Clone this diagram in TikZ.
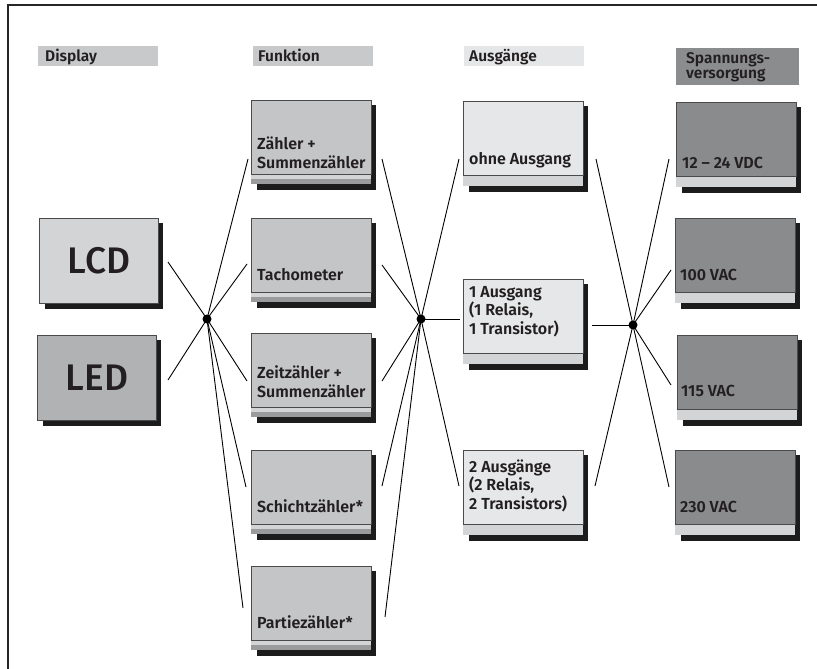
\documentclass[tikz,border=0pt]{standalone}
\usepackage{fontspec}
\setmainfont{Fira Sans}
\newfontfamily\fsemi{Fira Sans SemiBold}
\newfontfamily\fmed{Fira Sans Medium}
\definecolor{shadowc}{HTML}{1C1C1C}
\definecolor{borderc}{HTML}{4A4A4A}
\definecolor{textc}{HTML}{231F20}
\definecolor{hdrA}{HTML}{C8C9CB}
\definecolor{hdrB}{HTML}{E5E6E7}
\definecolor{hdrC}{HTML}{8B8C8E}
\definecolor{fillLCD}{HTML}{D3D4D6}
\definecolor{fillLED}{HTML}{B1B2B4}
\definecolor{fillF}{HTML}{C4C5C7}
\definecolor{fillA}{HTML}{E6E7E8}
\definecolor{fillS}{HTML}{8A8B8D}
\definecolor{stripl}{HTML}{D3D4D6}
\definecolor{stripd}{HTML}{9A9B9D}
\newcommand\pnlF[4]{%
  \fill[shadowc] (#2+6,#3+5) rectangle (#2+125,#3+90);
  \fill[stripl] (#2,#3+74) rectangle (#2+120,#3+78.5);
  \fill[stripd] (#2,#3+78.5) rectangle (#2+120,#3+84);
  \node[panel,fill=#4] (#1) at (#2,#3) {};}
\newcommand\pnlA[4]{%
  \fill[shadowc] (#2+6,#3+5) rectangle (#2+125,#3+91);
  \fill[stripl] (#2,#3+74) rectangle (#2+120,#3+85);
  \node[panel,fill=#4] (#1) at (#2,#3) {};}
\newcommand\pnlD[4]{%
  \fill[shadowc] (#2+6,#3+5) rectangle (#2+124,#3+91);
  \node[panel,fill=#4,minimum width=119pt,minimum height=85pt] (#1) at (#2,#3) {};}
\begin{document}
\begin{tikzpicture}[x=1pt,y=-1pt,
  panel/.style={anchor=north west,minimum width=120pt,minimum height=74pt,
    draw=borderc,line width=0.8pt,inner sep=0pt},
  hdr/.style={anchor=north west,inner sep=0pt,draw=none,minimum height=20pt},
  txt/.style={anchor=base west,inner sep=0pt,text=textc,align=left,
    font=\fsemi\fontsize{16}{18.5}\selectfont},
  htxt/.style={anchor=base west,inner sep=0pt,text=textc,align=left,
    font=\fsemi\fontsize{15.5}{14}\selectfont},
  big/.style={inner sep=0pt,text=textc,font=\fmed\fontsize{37}{40}\selectfont},
  dot/.style={circle,fill=black,minimum size=9pt,inner sep=0pt},
  conn/.style={line width=0.9pt,black}]
\useasboundingbox (0,0) rectangle (817,669);
% frame
\draw[line width=1.3pt,color=black!85] (817,5) -- (8,5) -- (8,669);
% headers
\node[hdr,fill=hdrA,minimum width=120pt] (hd1) at (38,46) {};
\node[hdr,fill=hdrA,minimum width=120pt] (hd2) at (253,46) {};
\node[hdr,fill=hdrB,minimum width=120pt] (hd3) at (464,46) {};
\node[hdr,fill=hdrC,minimum width=123pt,minimum height=37pt] (hd4) at (676,48) {};
\node[htxt] (ht1) at (45,62) {Display};
\node[htxt] (ht2) at (258,62) {Funktion};
\node[htxt] (ht3) at (469,62) {Ausgänge};
\node[htxt] (ht4) at (686,78) {Spannungs-\\versorgung};
% display
\pnlD{lcd}{39}{218}{fillLCD}
\pnlD{led}{37}{335}{fillLED}
\node[big] (tlcd) at (lcd.center) {LCD};
\node[big] (tled) at (led.center) {LED};
% funktion
\pnlF{f1}{251}{100}{fillF}
\pnlF{f2}{251}{218}{fillF}
\pnlF{f3}{251}{333}{fillF}
\pnlF{f4}{251}{450}{fillF}
\pnlF{f5}{251}{566}{fillF}
\node[txt] (tf1) at (257,168) {Zähler +\\Summenzähler};
\node[txt] (tf2) at (257,280) {Tachometer};
\node[txt] (tf3) at (257,397) {Zeitzähler +\\Summenzähler};
\node[txt] (tf4) at (257,512) {Schichtzähler*};
\node[txt] (tf5) at (257,628) {Partiezähler*};
% ausgaenge
\pnlA{a1}{463}{101}{fillA}
\pnlA{a2}{463}{279}{fillA}
\pnlA{a3}{463}{450}{fillA}
\node[txt] (ta1) at (469,164) {ohne Ausgang};
\node[txt] (ta2) at (469,334) {1 Ausgang\\(1 Relais,\\1 Transistor)};
\node[txt] (ta3) at (469,509) {2 Ausgänge\\(2 Relais,\\2 Transistors)};
% spannung
\pnlA{s1}{676}{102}{fillS}
\pnlA{s2}{675}{218}{fillS}
\pnlA{s3}{677}{335}{fillS}
\pnlA{s4}{675}{450}{fillS}
\node[txt] (ts1) at (682,168) {12 – 24 VDC};
\node[txt] (ts2) at (680,280) {100 VAC};
\node[txt] (ts3) at (681,396) {115 VAC};
\node[txt] (ts4) at (680,512) {230 VAC};
% junctions
\node[dot] (d1) at (207,319) {};
\node[dot] (d2) at (421,319) {};
\node[dot] (d3) at (633,325) {};
% connector ends
\coordinate (elcd) at (168,262);
\coordinate (eled) at (168,380);
\coordinate (ef1) at (248,159);
\coordinate (ef2) at (247,264);
\coordinate (ef3) at (247,381);
\coordinate (ef4) at (246,487);
\coordinate (ef5) at (243,608);
\coordinate (gf1) at (382,159);
\coordinate (gf2) at (382,265);
\coordinate (gf3) at (382,381);
\coordinate (gf4) at (382,486);
\coordinate (gf5) at (385,617);
\coordinate (ea1) at (459,159);
\coordinate (ea2) at (460,319);
\coordinate (ea3) at (459,486);
\coordinate (ga1) at (596,159);
\coordinate (ga2) at (592,325);
\coordinate (ga3) at (595,486);
\coordinate (es1) at (669,159);
\coordinate (es2) at (671,270);
\coordinate (es3) at (671,385);
\coordinate (es4) at (669,487);
\foreach \e in {elcd,eled,ef1,ef2,ef3,ef4,ef5} \draw[conn] (d1.center) -- (\e);
\foreach \e in {gf1,gf2,gf3,gf4,gf5,ea1,ea2,ea3} \draw[conn] (d2.center) -- (\e);
\foreach \e in {ga1,ga2,ga3,es1,es2,es3,es4} \draw[conn] (d3.center) -- (\e);
\end{tikzpicture}
\end{document}
